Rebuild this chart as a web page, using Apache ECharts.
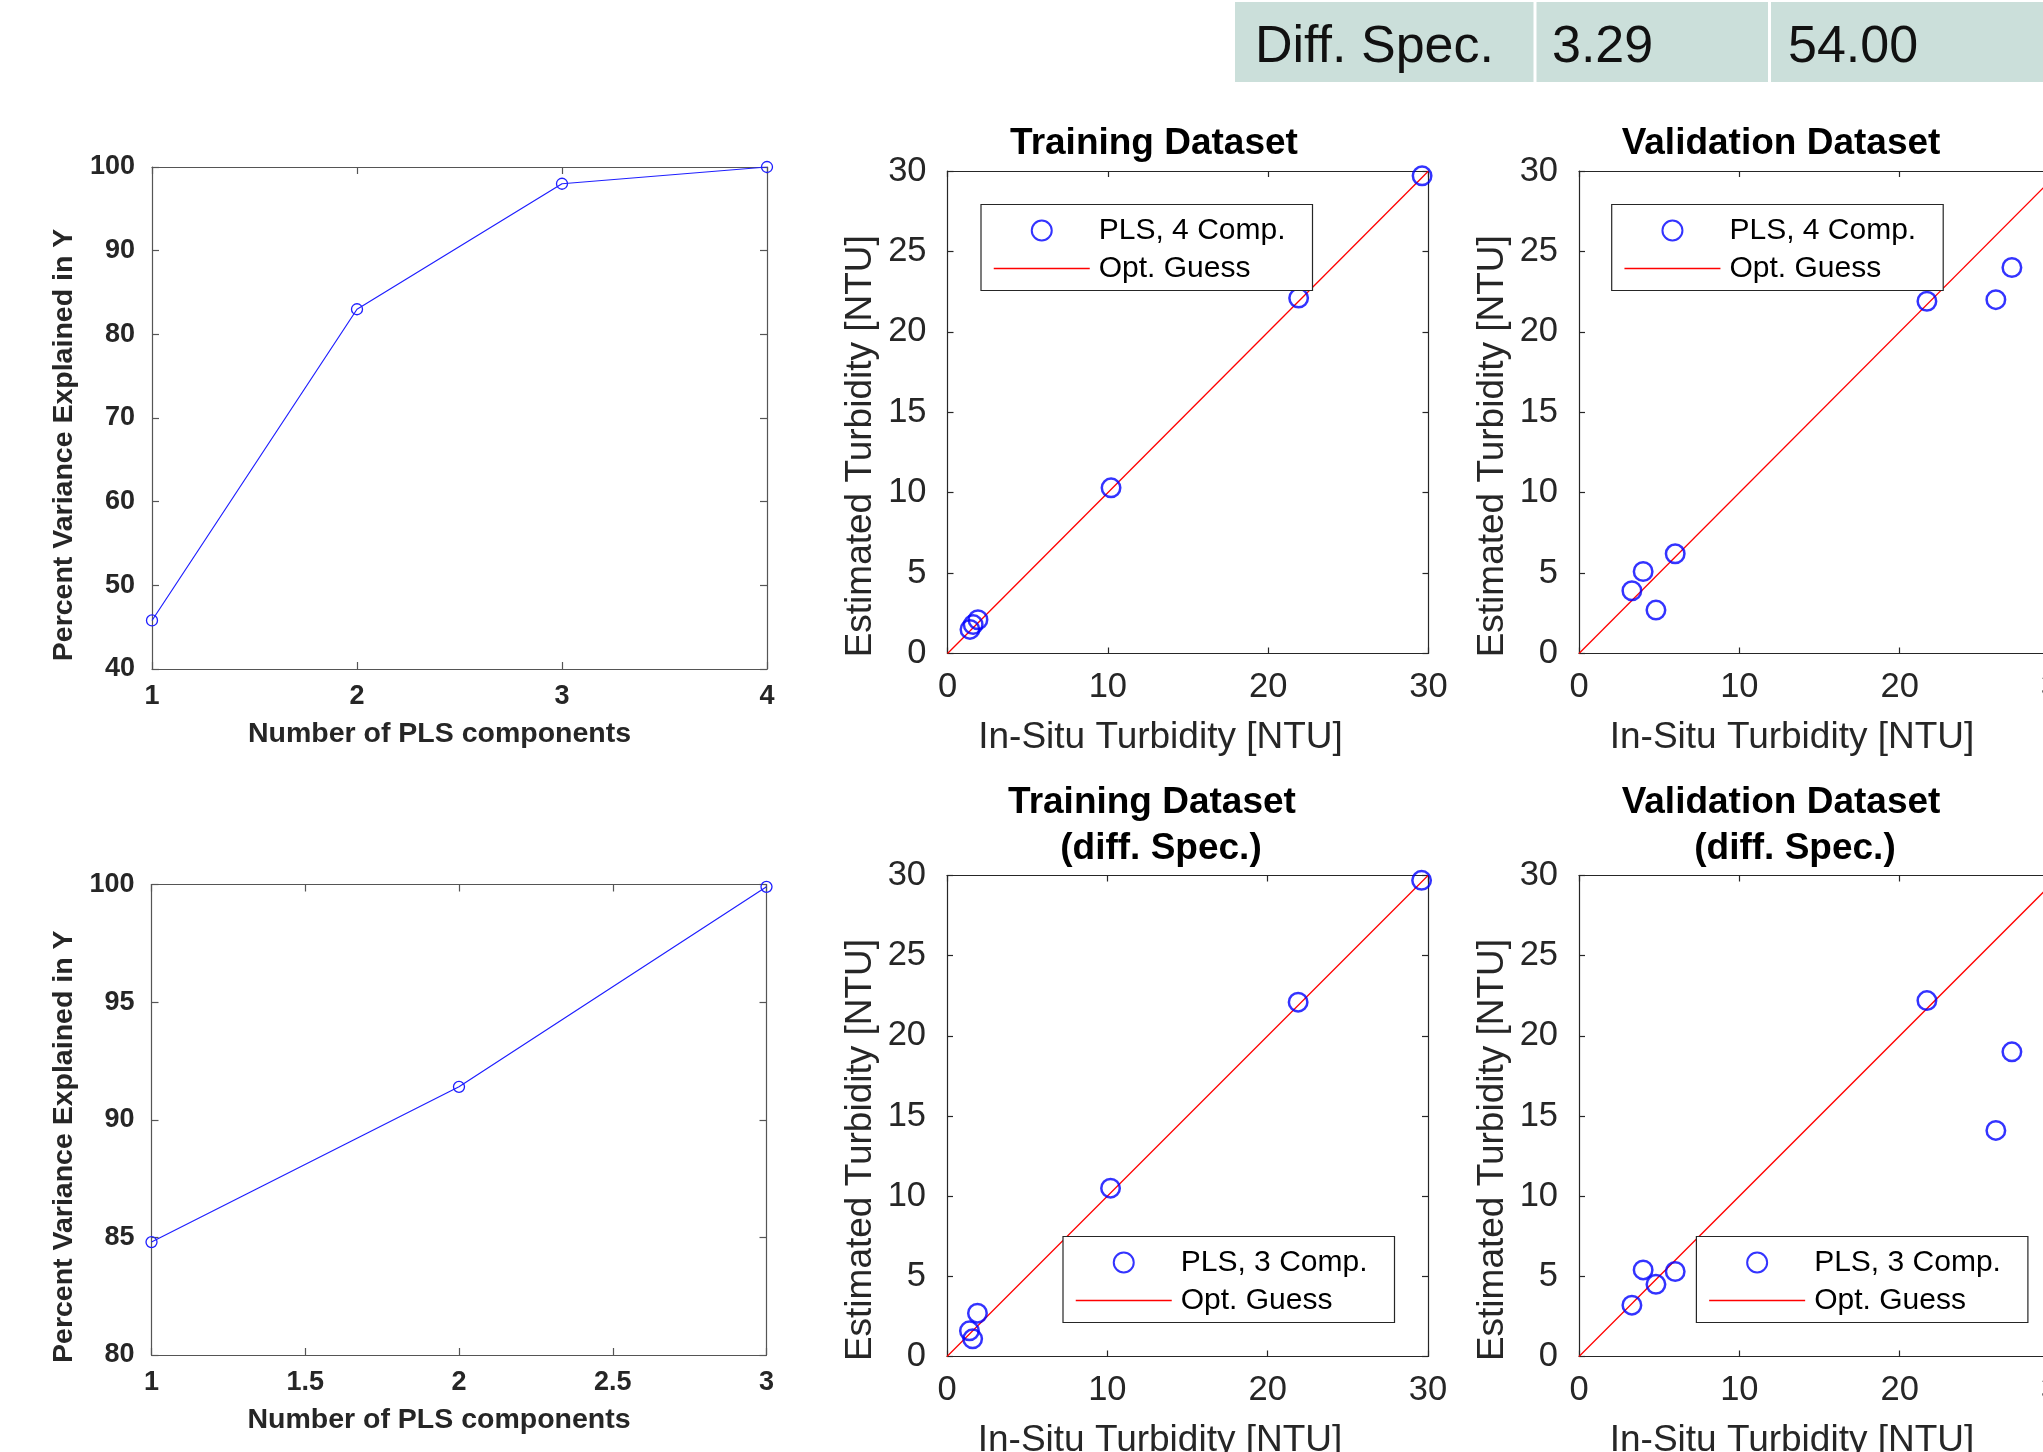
<!DOCTYPE html>
<html>
<head>
<meta charset="utf-8">
<script src="https://cdn.jsdelivr.net/npm/echarts@6/dist/echarts.min.js"></script>
<style>
  html, body { margin: 0; padding: 0; background: #fff; }
  #chart { width: 2043px; height: 1452px; }
</style>
</head>
<body>
<div id="chart"></div>
<script>
// Cumulative % variance in Y explained by the PLS components
const componentsFull = [1, 2, 3, 4];
const varianceFull = [45.8, 83.0, 98.0, 100.0];
const componentsDiff = [1, 2, 3];
const varianceDiff = [84.8, 91.4, 99.9];

// Training set: in-situ vs. estimated turbidity [NTU]
const trainInSitu = [29.6, 21.9, 10.2, 1.4, 1.6, 1.9];
const trainEstFull = [29.7, 22.1, 10.3, 1.5, 1.8, 2.1];
const trainEstDiff = [29.7, 22.1, 10.5, 1.6, 1.1, 2.7];

// Validation set: in-situ vs. estimated turbidity [NTU]
const validInSitu = [3.3, 4.0, 4.8, 6.0, 21.7, 26.0, 27.0];
const validEstFull = [3.9, 5.1, 2.7, 6.2, 21.9, 22.0, 24.0];
const validEstDiff = [3.2, 5.4, 4.5, 5.3, 22.2, 14.1, 19.0];

// 1:1 reference line end points
const guessLine = [0, 30];

// Summary table row
const tableRow = ['Diff. Spec.', '3.29', '54.00'];

const FONT = "'Liberation Sans', Arial, Helvetica, sans-serif";
const TXT = '#262626';

function pairs(xs, ys) { return xs.map((x, i) => [x, ys[i]]); }

// One grid = a boxed axes: labelled bottom/left axes plus mirrored top/right axes with inward ticks
function boxAxes(g, xr, yr, st) {
  const line = { show: true, onZero: false, lineStyle: { color: st.boxColor, width: 1.2 } };
  const tick = { show: true, inside: true, length: st.tickLen, lineStyle: { color: st.boxColor, width: 1.2 } };
  const lab = { color: TXT, fontFamily: FONT, fontSize: st.tickSize, fontWeight: st.weight, lineHeight: st.tickSize };
  const nameBase = { color: TXT, fontFamily: FONT, fontSize: st.nameSize, fontWeight: st.weight, lineHeight: st.nameSize };
  const x = [
    { type: 'value', gridIndex: g, position: 'bottom', min: xr[0], max: xr[1], interval: xr[2],
      axisLine: line, axisTick: tick, splitLine: { show: false },
      axisLabel: Object.assign({ margin: st.xMargin }, lab),
      name: st.xName, nameLocation: 'middle', nameGap: st.xNameGap,
      nameTextStyle: Object.assign({ padding: [0, st.xNameShift, 0, 0] }, nameBase) },
    { type: 'value', gridIndex: g, position: 'top', min: xr[0], max: xr[1], interval: xr[2],
      axisLine: line, axisTick: tick, splitLine: { show: false }, axisLabel: { show: false } }
  ];
  const y = [
    { type: 'value', gridIndex: g, position: 'left', min: yr[0], max: yr[1], interval: yr[2],
      axisLine: line, axisTick: tick, splitLine: { show: false },
      axisLabel: Object.assign({ margin: st.yMargin }, lab),
      name: st.yName, nameLocation: 'middle', nameGap: st.yNameGap,
      nameTextStyle: Object.assign({ padding: [0, st.yNameShift, 0, 0] }, nameBase) },
    { type: 'value', gridIndex: g, position: 'right', min: yr[0], max: yr[1], interval: yr[2],
      axisLine: line, axisTick: tick, splitLine: { show: false }, axisLabel: { show: false } }
  ];
  return { x, y };
}

const lineStyleSet = {
  boxColor: '#555', tickLen: 7, tickSize: 27, nameSize: 28.5, weight: 'bold',
  xMargin: 14, yMargin: 17, xNameGap: 51, yNameGap: 73.5, xNameShift: 40, yNameShift: 54,
  xName: 'Number of PLS components', yName: 'Percent Variance Explained in Y'
};
const scatterStyleSet = {
  boxColor: '#262626', tickLen: 6, tickSize: 34.5, nameSize: 37, weight: 'normal',
  xMargin: 17, yMargin: 21, xNameGap: 66, yNameGap: 68, xNameShift: 55, yNameShift: 68,
  xName: 'In-Situ Turbidity [NTU]', yName: 'Estimated Turbidity [NTU]'
};

const gridBase = { containLabel: false, outerBoundsMode: 'none' };
const grids = [
  { left: 152, top: 167, width: 615, height: 502 },
  { left: 947.5, top: 171, width: 481, height: 482.5 },
  { left: 1579, top: 171, width: 481, height: 482.5 },
  { left: 151.5, top: 884.5, width: 615, height: 470.5 },
  { left: 947, top: 875.5, width: 481, height: 481 },
  { left: 1579, top: 875.5, width: 481, height: 481 }
].map(g => Object.assign({}, gridBase, g));

const axesList = [
  boxAxes(0, [1, 4, 1], [40, 100, 10], lineStyleSet),
  boxAxes(1, [0, 30, 10], [0, 30, 5], scatterStyleSet),
  boxAxes(2, [0, 30, 10], [0, 30, 5], scatterStyleSet),
  boxAxes(3, [1, 3, 0.5], [80, 100, 5], lineStyleSet),
  boxAxes(4, [0, 30, 10], [0, 30, 5], scatterStyleSet),
  boxAxes(5, [0, 30, 10], [0, 30, 5], scatterStyleSet)
];
const xAxes = [], yAxes = [];
axesList.forEach(a => { xAxes.push(...a.x); yAxes.push(...a.y); });

function varianceSeries(g, xs, ys) {
  return {
    type: 'line', xAxisIndex: 2 * g, yAxisIndex: 2 * g, data: pairs(xs, ys),
    symbol: 'circle', symbolSize: 11, showSymbol: true,
    lineStyle: { color: '#1f1fff', width: 1.2 },
    itemStyle: { color: 'rgba(0,0,0,0)', borderColor: '#1f1fff', borderWidth: 1.3 }
  };
}
function plsSeries(g, name, xs, ys) {
  return {
    type: 'scatter', name, xAxisIndex: 2 * g, yAxisIndex: 2 * g, data: pairs(xs, ys),
    symbol: 'circle', symbolSize: 18.5, z: 3,
    itemStyle: { color: 'rgba(0,0,0,0)', borderColor: '#0000ff', borderWidth: 2.5 }
  };
}
function guessSeries(g) {
  return {
    type: 'line', name: 'Opt. Guess', xAxisIndex: 2 * g, yAxisIndex: 2 * g,
    data: guessLine.map(v => [v, v]), symbol: 'none', z: 2,
    lineStyle: { color: '#ff0000', width: 1.3 }
  };
}

function legendBox(left, top, plsName) {
  return {
    orient: 'vertical', left, top, padding: [11, 27, 7, 12], itemGap: 8,
    itemWidth: 96, itemHeight: 20, selectedMode: false,
    backgroundColor: '#fff', borderColor: '#262626', borderWidth: 1.2, borderRadius: 0,
    textStyle: { fontFamily: FONT, fontSize: 30, lineHeight: 30, color: '#000', padding: [0, 0, 0, 4] },
    data: [
      { name: plsName },
      { name: 'Opt. Guess', itemStyle: { opacity: 0 }, lineStyle: { width: 1.5 } }
    ]
  };
}

function titleText(text, cx, top) {
  return {
    text, left: cx, top, textAlign: 'center', padding: 0,
    textStyle: { fontFamily: FONT, fontSize: 37, fontWeight: 'bold', color: '#000', lineHeight: 37 }
  };
}

// Summary table strip along the top edge
const tableCells = [
  { x: 1235, w: 298.5, tx: 1255 },
  { x: 1536.5, w: 231.5, tx: 1552 },
  { x: 1771, w: 272, tx: 1788 }
];
const tableGraphics = [];
tableCells.forEach((c, i) => {
  tableGraphics.push({ type: 'rect', shape: { x: c.x, y: 2, width: c.w, height: 80 },
    style: { fill: '#cbdfda' }, silent: true });
  tableGraphics.push({ type: 'text', x: c.tx, y: 48,
    style: { text: tableRow[i], font: '52px ' + FONT, fill: '#111', textVerticalAlign: 'middle' }, silent: true });
});

const option = {
  animation: false,
  backgroundColor: '#fff',
  title: [
    titleText('Training Dataset', 1154, 125.5),
    titleText('Validation Dataset', 1781, 125.5),
    titleText('Training Dataset', 1152, 784.5),
    titleText('(diff. Spec.)', 1161, 830.5),
    titleText('Validation Dataset', 1781, 784.5),
    titleText('(diff. Spec.)', 1795, 830.5)
  ],
  legend: [
    legendBox(981, 204.5, 'PLS, 4 Comp.'),
    legendBox(1611.7, 204.5, 'PLS, 4 Comp.'),
    legendBox(1063, 1236.5, 'PLS, 3 Comp.'),
    legendBox(1696.4, 1236.5, 'PLS, 3 Comp.')
  ],
  grid: grids,
  xAxis: xAxes,
  yAxis: yAxes,
  graphic: tableGraphics,
  series: [
    varianceSeries(0, componentsFull, varianceFull),
    guessSeries(1), plsSeries(1, 'PLS, 4 Comp.', trainInSitu, trainEstFull),
    guessSeries(2), plsSeries(2, 'PLS, 4 Comp.', validInSitu, validEstFull),
    varianceSeries(3, componentsDiff, varianceDiff),
    guessSeries(4), plsSeries(4, 'PLS, 3 Comp.', trainInSitu, trainEstDiff),
    guessSeries(5), plsSeries(5, 'PLS, 3 Comp.', validInSitu, validEstDiff)
  ]
};

const chart = echarts.init(document.getElementById('chart'), null, { renderer: 'canvas' });
chart.setOption(option);
</script>
</body>
</html>
